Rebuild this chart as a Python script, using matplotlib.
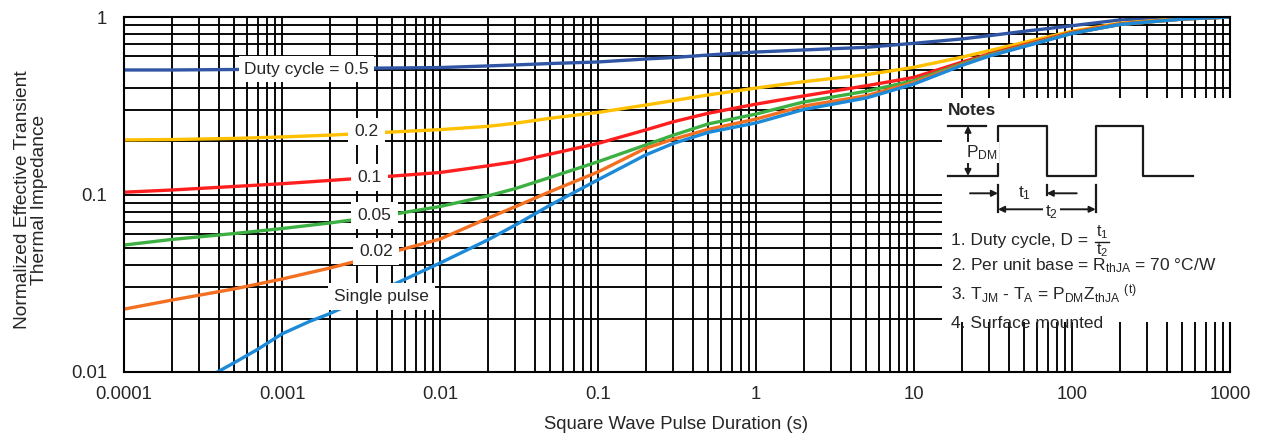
import matplotlib
matplotlib.use('Agg')
import matplotlib.pyplot as plt

plt.rcParams['font.family'] = ['Liberation Sans', 'DejaVu Sans']
plt.rcParams['mathtext.fontset'] = 'custom'
plt.rcParams['mathtext.rm'] = 'Liberation Sans'
plt.rcParams['mathtext.it'] = 'Liberation Sans:italic'

# square wave pulse duration (s)
t = [1e-4, 2e-4, 5e-4, 1e-3, 2e-3, 5e-3, 1e-2, 2e-2, 3e-2, 5e-2,
     0.1, 0.2, 0.3, 0.5, 1, 2, 5, 10, 20, 30, 50, 100, 200, 500, 1000]
# normalized transient thermal impedance per duty cycle
z_d05 = [0.503, 0.503, 0.506, 0.509, 0.513, 0.516, 0.519, 0.530, 0.537, 0.547,
         0.558, 0.580, 0.591, 0.611, 0.635, 0.652, 0.675, 0.711, 0.752, 0.785,
         0.831, 0.893, 0.962, 0.994, 1.0]
z_d02 = [0.203, 0.204, 0.207, 0.211, 0.216, 0.225, 0.232, 0.242, 0.252, 0.269,
         0.290, 0.319, 0.338, 0.364, 0.398, 0.432, 0.473, 0.521, 0.593, 0.646,
         0.720, 0.831, 0.922, 0.981, 1.0]
z_d01 = [0.103, 0.106, 0.111, 0.115, 0.120, 0.127, 0.133, 0.145, 0.153, 0.169,
         0.194, 0.231, 0.257, 0.287, 0.323, 0.359, 0.410, 0.457, 0.556, 0.619,
         0.698, 0.820, 0.913, 0.974, 1.0]
z_d005 = [0.0519, 0.0558, 0.0603, 0.0643, 0.0691, 0.0772, 0.0856, 0.0981, 0.108, 0.125,
          0.153, 0.190, 0.216, 0.250, 0.284, 0.332, 0.382, 0.438, 0.544, 0.611,
          0.689, 0.813, 0.907, 0.974, 1.0]
z_d002 = [0.0226, 0.0254, 0.0294, 0.0334, 0.0385, 0.0474, 0.0561, 0.0734, 0.0854, 0.104,
          0.134, 0.182, 0.205, 0.233, 0.266, 0.315, 0.360, 0.429, 0.537, 0.605,
          0.686, 0.809, 0.907, 0.974, 1.0]
t_single = [3.9e-4, 5e-4, 7e-4, 1e-3, 1.5e-3, 2e-3, 5e-3, 1e-2, 2e-2, 3e-2, 5e-2, 0.1,
            0.2, 0.3, 0.5, 1, 2, 5, 10, 20, 30, 50, 100, 200, 500, 1000]
z_single = [0.0100, 0.0113, 0.0134, 0.0164, 0.0193, 0.0213, 0.0309, 0.0411, 0.0554, 0.0673,
            0.0873, 0.121, 0.167, 0.194, 0.224, 0.253, 0.301, 0.350, 0.419, 0.533,
            0.603, 0.682, 0.807, 0.907, 0.974, 1.0]

x_ticks = [1e-4, 1e-3, 1e-2, 0.1, 1, 10, 100, 1000]
x_labels = ['0.0001', '0.001', '0.01', '0.1', '1', '10', '100', '1000']
y_ticks = [0.01, 0.1, 1]
y_labels = ['0.01', '0.1', '1']

txt = '#262626'
fs = 12.5
fs_ax = 13.3

fig = plt.figure(figsize=(12.61, 4.37), dpi=100)
ax = fig.add_axes([124 / 1261, 1 - 372 / 437, 1106 / 1261, 355 / 437])
ax.set_xscale('log')
ax.set_yscale('log')
ax.set_xlim(1e-4, 1000)
ax.set_ylim(0.01, 1)

ax.grid(True, which='both', color='black', linewidth=1.35)
for s in ax.spines.values():
    s.set_color('black')
    s.set_linewidth(1.5)

ax.plot(t, z_d05, color='#2F55A4', lw=2.4)
ax.plot(t, z_d02, color='#FFC000', lw=2.4)
ax.plot(t, z_d01, color='#FF1F1F', lw=2.4)
ax.plot(t, z_d005, color='#3DB043', lw=2.4)
ax.plot(t, z_d002, color='#F36F21', lw=2.4)
ax.plot(t_single, z_single, color='#1C8AD8', lw=2.4)

ax.set_xticks(x_ticks)
ax.set_xticklabels(x_labels)
ax.set_yticks(y_ticks)
ax.set_yticklabels(y_labels)
ax.minorticks_on()
ax.tick_params(which='both', length=0)
ax.tick_params(axis='x', pad=10, labelsize=fs_ax, labelcolor=txt)
ax.tick_params(axis='y', pad=12, labelsize=fs_ax, labelcolor=txt)
ax.xaxis.set_minor_formatter(plt.NullFormatter())
ax.yaxis.set_minor_formatter(plt.NullFormatter())

box = dict(boxstyle='square,pad=0.3', fc='white', ec='none')
ax.text(1.43e-3, 0.509, 'Duty cycle = 0.5', fontsize=fs, color=txt,
        ha='center', va='center', bbox=box, zorder=4)
for lx, ly, s in [(3.42e-3, 0.226, '0.2'), (3.58e-3, 0.124, '0.1'),
                  (3.85e-3, 0.076, '0.05'), (3.96e-3, 0.0476, '0.02'),
                  (4.26e-3, 0.0265, 'Single pulse')]:
    ax.text(lx, ly, s, fontsize=fs, color=txt, ha='center', va='center',
            bbox=dict(boxstyle='square,pad=0.35', fc='white', ec='none'), zorder=4)

fig.text(0.0246, 0.5423, 'Normalized Effective Transient\nThermal Impedance',
         rotation=90, ha='center', va='center', fontsize=13.8, color=txt,
         multialignment='center', linespacing=1.05)
fig.text(0.5365, 0.0297, 'Square Wave Pulse Duration (s)', ha='center',
         va='center', fontsize=fs_ax, color=txt)

# notes panel (local pixel-like coordinates)
nx = fig.add_axes([942 / 1261, 1 - 322 / 437, 290 / 1261, 224 / 437])
nx.set_xlim(0, 290)
nx.set_ylim(224, 0)
nx.set_xticks([])
nx.set_yticks([])
for s in nx.spines.values():
    s.set_visible(False)
nx.set_facecolor('white')

k = dict(color='#1a1a1a', lw=1.6)
nx.text(6, 12.5, 'Notes', fontsize=fs, fontweight='bold', color=txt,
        ha='left', va='center')
nx.plot([6, 56, 56, 105, 105, 154, 154, 201, 201, 251],
        [78, 78, 27.7, 27.7, 78, 78, 27.7, 27.7, 78, 78], **k)
nx.plot([6, 44], [27.7, 27.7], **k)
ap = dict(arrowstyle='<|-|>', color='#1a1a1a', lw=1.4, mutation_scale=9,
          shrinkA=0, shrinkB=0)
nx.annotate('', xy=(26, 27.7), xytext=(26, 78), arrowprops=ap)
nx.text(24.5, 54.5, r'P$_{\mathregular{DM}}$', fontsize=fs, color=txt,
        ha='left', va='center',
        bbox=dict(boxstyle='square,pad=0.05', fc='white', ec='none'))
nx.plot([56, 56], [87, 114], **k)
nx.plot([104.7, 104.7], [87, 97], **k)
nx.plot([153.7, 153.7], [87, 114], **k)
ap1 = dict(arrowstyle='-|>', color='#1a1a1a', lw=1.4, mutation_scale=9,
           shrinkA=0, shrinkB=0)
nx.annotate('', xy=(56, 95.3), xytext=(28, 95.3), arrowprops=ap1)
nx.annotate('', xy=(104.7, 95.3), xytext=(134.7, 95.3), arrowprops=ap1)
nx.text(83, 95.3, r't$_{\mathregular{1}}$', fontsize=fs, color=txt,
        ha='center', va='center')
nx.annotate('', xy=(56, 111.3), xytext=(153.7, 111.3), arrowprops=ap)
nx.text(109.7, 114, r't$_{\mathregular{2}}$', fontsize=fs, color=txt,
        ha='center', va='center',
        bbox=dict(boxstyle='square,pad=0.1', fc='white', ec='none'))

nx.text(8.7, 142, '1. Duty cycle, D =', fontsize=fs, color=txt, ha='left', va='center')
nx.text(160, 133.7, r't$_{\mathregular{1}}$', fontsize=fs - 1, color=txt, ha='center', va='center')
nx.plot([153, 167], [143.5, 143.5], color='#1a1a1a', lw=1.0)
nx.text(160, 152, r't$_{\mathregular{2}}$', fontsize=fs - 1, color=txt, ha='center', va='center')
nx.text(8.7, 167.7, r'2. Per unit base = R$_{\mathregular{thJA}}$ = 70 °C/W',
        fontsize=fs, color=txt, ha='left', va='center')
nx.text(8.7, 196,
        r'3. T$_{\mathregular{JM}}$ - T$_{\mathregular{A}}$ = P$_{\mathregular{DM}}$Z$_{\mathregular{thJA}}$ $^{\mathregular{(t)}}$',
        fontsize=fs, color=txt, ha='left', va='center')
nx.text(8.7, 225.3, '4. Surface mounted', fontsize=fs, color=txt,
        ha='left', va='center', clip_on=False)

fig.savefig('out.png', dpi=100)
